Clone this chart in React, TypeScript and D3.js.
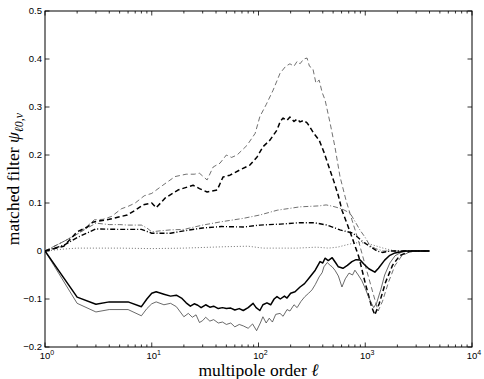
import React from "react";
import * as d3 from "d3";

// ---- data (ell, value) ----
const solidThin: [number, number][] = [
  [1, 0], [2, -0.109], [3, -0.127], [4, -0.122], [6, -0.122], [8, -0.135], [9, -0.12], [10, -0.11], [11, -0.106],
  [13, -0.112], [15, -0.109], [17, -0.116], [20, -0.137], [22, -0.13], [24, -0.138], [26, -0.133], [28, -0.149],
  [30, -0.145], [32, -0.138], [35, -0.146], [38, -0.143], [42, -0.15], [46, -0.148], [50, -0.153], [55, -0.15],
  [60, -0.158], [66, -0.153], [72, -0.156], [80, -0.161], [88, -0.152], [96, -0.166], [104, -0.15], [110, -0.137],
  [118, -0.15], [126, -0.14], [135, -0.148], [145, -0.132], [159, -0.13], [170, -0.136], [185, -0.122], [197, -0.125],
  [215, -0.112], [230, -0.118], [250, -0.105], [272, -0.095], [295, -0.088], [317, -0.081], [340, -0.07], [370, -0.054],
  [395, -0.045], [410, -0.033], [440, -0.024], [470, -0.03], [490, -0.033], [520, -0.04], [560, -0.052], [605, -0.075],
  [650, -0.058], [705, -0.046], [760, -0.05], [800, -0.04], [860, -0.05], [930, -0.062], [1000, -0.078],
  [1080, -0.097], [1150, -0.11], [1200, -0.118], [1280, -0.108], [1400, -0.08], [1520, -0.05], [1700, -0.025],
  [1900, -0.01], [2200, -0.002], [2600, 0], [4000, 0],
];

const solidThick: [number, number][] = [
  [1, 0], [2, -0.096], [3, -0.111], [4, -0.106], [6, -0.106], [8, -0.116], [9, -0.1], [10, -0.088], [11, -0.085],
  [13, -0.09], [15, -0.094], [17, -0.092], [19, -0.098], [21, -0.108], [23, -0.115], [25, -0.11], [27, -0.113],
  [29, -0.118], [32, -0.112], [35, -0.117], [38, -0.115], [42, -0.12], [46, -0.118], [50, -0.12], [55, -0.119],
  [60, -0.123], [66, -0.12], [72, -0.124], [80, -0.118], [89, -0.109], [95, -0.118], [103, -0.124], [110, -0.112],
  [120, -0.108], [130, -0.112], [140, -0.1], [149, -0.095], [160, -0.1], [175, -0.094], [185, -0.098], [200, -0.088],
  [220, -0.085], [245, -0.075], [270, -0.068], [303, -0.054], [340, -0.04], [377, -0.022], [400, -0.025],
  [420, -0.015], [450, -0.02], [490, -0.014], [530, -0.025], [560, -0.033], [618, -0.036], [680, -0.03],
  [750, -0.022], [820, -0.018], [897, -0.019], [980, -0.028], [1080, -0.037], [1230, -0.044], [1330, -0.036],
  [1520, -0.019], [1700, -0.009], [1900, -0.004], [2360, 0], [4000, 0],
];

const dashedThin: [number, number][] = [
  [1, 0], [1.5, 0.02], [2, 0.035], [2.5, 0.052], [2.9, 0.065], [3.5, 0.066], [4.2, 0.072], [5.2, 0.088], [6, 0.093],
  [7, 0.1], [8.5, 0.115], [10, 0.12], [12.7, 0.137], [16.5, 0.155], [21, 0.16], [25, 0.16], [28, 0.162], [33, 0.148],
  [37.6, 0.175], [43.6, 0.183], [50, 0.2], [56, 0.195], [63, 0.2], [78, 0.22], [93, 0.245], [103, 0.28], [118, 0.305],
  [137, 0.335], [159, 0.37], [180, 0.385], [197, 0.39], [215, 0.385], [230, 0.395], [245, 0.39], [265, 0.4],
  [285, 0.402], [300, 0.385], [323, 0.38], [345, 0.35], [370, 0.356], [395, 0.33], [420, 0.315], [468, 0.267],
  [520, 0.217], [580, 0.155], [660, 0.106], [750, 0.065], [860, 0.023], [950, -0.012], [1060, -0.05], [1190, -0.09],
  [1320, -0.125], [1450, -0.105], [1650, -0.065], [1900, -0.03], [2200, -0.01], [2600, -0.002], [3000, 0], [4000, 0],
];

const dashedThick: [number, number][] = [
  [1, 0], [1.5, 0.01], [2, 0.04], [2.5, 0.05], [2.8, 0.06], [4, 0.066], [5.9, 0.075], [7, 0.085], [8.3, 0.096],
  [10, 0.1], [11, 0.09], [13.3, 0.11], [17.6, 0.127], [20, 0.131], [24.4, 0.137], [28, 0.13], [33, 0.123],
  [41, 0.127], [46.5, 0.154], [54, 0.158], [67, 0.169], [83, 0.179], [97, 0.196], [110, 0.217], [128, 0.231],
  [149, 0.252], [160, 0.27], [170, 0.277], [185, 0.272], [197, 0.279], [215, 0.27], [230, 0.275], [245, 0.269],
  [265, 0.272], [285, 0.267], [300, 0.26], [330, 0.245], [370, 0.231], [410, 0.206], [457, 0.175], [510, 0.144],
  [560, 0.115], [605, 0.085], [680, 0.055], [750, 0.029], [870, -0.012], [1000, -0.067], [1150, -0.117],
  [1230, -0.133], [1350, -0.11], [1550, -0.065], [1800, -0.03], [2100, -0.01], [2500, -0.002], [2900, 0], [4000, 0],
];

const dashDotThin: [number, number][] = [
  [1, 0], [1.5, 0.02], [2, 0.035], [2.5, 0.048], [3, 0.058], [4, 0.055], [5, 0.055], [6, 0.054], [8, 0.054],
  [9, 0.048], [10, 0.04], [12, 0.042], [15, 0.044], [20, 0.045], [25, 0.05], [30, 0.054], [45, 0.061], [72, 0.068],
  [103, 0.075], [150, 0.085], [245, 0.092], [370, 0.094], [430, 0.096], [500, 0.093], [600, 0.088], [720, 0.079],
  [800, 0.062], [890, 0.044], [1000, 0.028], [1100, 0.012], [1250, 0.005], [1470, 0], [4000, 0],
];

const dashDotThick: [number, number][] = [
  [1, 0], [1.5, 0.012], [2, 0.028], [2.5, 0.038], [3, 0.046], [5, 0.045], [8, 0.045], [10, 0.037], [15, 0.037],
  [20, 0.042], [30, 0.048], [45, 0.051], [72, 0.05], [103, 0.054], [160, 0.056], [245, 0.059], [330, 0.059],
  [440, 0.054], [520, 0.048], [580, 0.044], [770, 0.037], [950, 0.019], [1290, 0], [1450, -0.003], [1700, 0], [4000, 0],
];

const dotted: [number, number][] = [
  [1, 0], [1.5, 0.004], [2, 0.006], [5, 0.006], [10, 0.005], [20, 0.006], [50, 0.009], [80, 0.01], [110, 0.006],
  [230, 0.006], [350, 0.008], [450, 0.006], [550, 0.008], [660, 0.0125], [800, 0.017], [1000, 0.017], [1200, 0.012],
  [1470, 0.006], [1900, 0], [4000, 0],
];

const yTicks = [-0.2, -0.1, 0, 0.1, 0.2, 0.3, 0.4, 0.5];
const yTickLabels = ["\u22120.2", "\u22120.1", "0", "0.1", "0.2", "0.3", "0.4", "0.5"];
const xTickExps = [0, 1, 2, 3, 4];

const W = 484, H = 379;
const L = 45, R = 472, T = 11, B = 347;

export default function App() {
  const xs = d3.scaleLog().domain([1, 10000]).range([L, R]);
  const ys = d3.scaleLinear().domain([-0.2, 0.5]).range([B, T]);
  const line = d3.line<[number, number]>().x((d) => xs(d[0])).y((d) => ys(d[1]));

  const series = [
    { data: dotted, w: 0.7, dash: "1,2", c: "#333" },
    { data: dashDotThin, w: 0.7, dash: "5,2,1,2", c: "#333" },
    { data: dashDotThick, w: 1.4, dash: "5,2,1,2", c: "#000" },
    { data: dashedThin, w: 0.7, dash: "5,3", c: "#333" },
    { data: dashedThick, w: 1.5, dash: "5,3", c: "#000" },
    { data: solidThin, w: 0.8, dash: "none", c: "#444" },
    { data: solidThick, w: 1.5, dash: "none", c: "#000" },
  ];

  const minor: number[] = [];
  for (let e = 0; e < 4; e++) for (let k = 2; k <= 9; k++) minor.push(k * Math.pow(10, e));

  return (
    <svg width={W} height={H} style={{ position: "absolute", left: 0, top: 0, background: "#fff" }}
      fontFamily="'Liberation Sans', Arial, sans-serif">
      <rect x={0} y={0} width={W} height={H} fill="#fff" />
      <defs>
        <clipPath id="plotclip"><rect x={L} y={T} width={R - L} height={B - T} /></clipPath>
      </defs>
      <g clipPath="url(#plotclip)" fill="none">
        {series.map((s, i) => (
          <path key={i} d={line(s.data) || ""} stroke={s.c} strokeWidth={s.w}
            strokeDasharray={s.dash} strokeLinejoin="round" />
        ))}
      </g>
      {/* ticks */}
      <g stroke="#000" strokeWidth={0.8}>
        {xTickExps.map((e) => {
          const x = xs(Math.pow(10, e));
          return (
            <g key={"xt" + e}>
              <line x1={x} x2={x} y1={B} y2={B - 4.5} />
              <line x1={x} x2={x} y1={T} y2={T + 4.5} />
            </g>
          );
        })}
        {minor.map((m) => {
          const x = xs(m);
          return (
            <g key={"xm" + m}>
              <line x1={x} x2={x} y1={B} y2={B - 2.5} />
              <line x1={x} x2={x} y1={T} y2={T + 2.5} />
            </g>
          );
        })}
        {yTicks.map((v) => {
          const y = ys(v);
          return (
            <g key={"yt" + v}>
              <line x1={L} x2={L + 4.5} y1={y} y2={y} />
              <line x1={R} x2={R - 4.5} y1={y} y2={y} />
            </g>
          );
        })}
      </g>
      <rect x={L} y={T} width={R - L} height={B - T} fill="none" stroke="#000" strokeWidth={1} />
      {/* tick labels */}
      <g fontSize={9.5} fill="#000">
        {yTicks.map((v, i) => (
          <text key={"yl" + v} x={L - 3} y={ys(v)} dy="0.35em" textAnchor="end">{yTickLabels[i]}</text>
        ))}
        {xTickExps.map((e) => (
          <text key={"xl" + e} x={xs(Math.pow(10, e)) + 2} y={359} textAnchor="middle">
            10<tspan dy={-4.5} fontSize={7}>{e}</tspan>
          </text>
        ))}
      </g>
      {/* axis labels */}
      <text x={(L + R) / 2} y={376} textAnchor="middle" fontSize={17.5}
        fontFamily="'Liberation Serif', 'Times New Roman', serif">
        multipole order <tspan fontStyle="italic">ℓ</tspan>
      </text>
      <text transform={`translate(19,${(T + B) / 2}) rotate(-90)`} textAnchor="middle" fontSize={17.5}
        fontFamily="'Liberation Serif', 'Times New Roman', serif">
        matched filter <tspan fontStyle="italic">ψ</tspan>
        <tspan fontStyle="italic" fontSize={12} dy={4}>ℓ0,ν</tspan>
      </text>
    </svg>
  );
}
